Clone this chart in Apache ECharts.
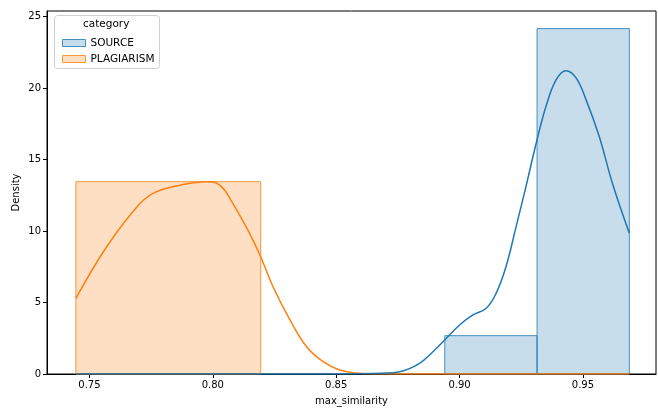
<!DOCTYPE html>
<html><head><meta charset="utf-8">
<script src="https://cdn.jsdelivr.net/npm/echarts@6/dist/echarts.min.js"></script>
<style>html,body{margin:0;padding:0;background:#fff}#c{width:658px;height:409px}</style>
</head><body><div id="c"></div>
<script>
// ---- data ----
const categories = ['SOURCE', 'PLAGIARISM'];
const sourceBinStart = [0.894, 0.9314];
const sourceBinEnd = [0.9314, 0.9688];
const sourceDensity = [2.68, 24.15];
const plagBinStart = [0.7445];
const plagBinEnd = [0.8194];
const plagDensity = [13.45];
const sourceKdeX = [0.7445, 0.80, 0.85, 0.86, 0.868, 0.8757, 0.8838, 0.8892, 0.894, 0.90, 0.9054, 0.9108, 0.9148, 0.9188, 0.9229, 0.9269, 0.931, 0.935, 0.9391, 0.9431, 0.9472, 0.9512, 0.9566, 0.962, 0.9688];
const sourceKdeY = [0, 0, 0, 0.01, 0.05, 0.16, 0.75, 1.56, 2.38, 3.43, 4.13, 4.6, 5.64, 7.5, 10.3, 13.1, 16.1, 18.7, 20.56, 21.2, 20.7, 19.2, 16.6, 13.3, 9.84];
const plagKdeX = [0.7445, 0.757, 0.7704, 0.7772, 0.7866, 0.7968, 0.8028, 0.8082, 0.815, 0.8194, 0.8244, 0.8312, 0.838, 0.8447, 0.8514, 0.858, 0.865, 0.875, 0.90, 0.9688];
const plagKdeY = [5.29, 8.9, 11.9, 12.75, 13.2, 13.45, 13.2, 11.9, 9.8, 8.2, 6.1, 3.8, 1.9, 0.86, 0.28, 0.07, 0.01, 0, 0, 0];
const xTicks = [0.75, 0.80, 0.85, 0.90, 0.95];
const yTicks = [0, 5, 10, 15, 20, 25];

const blue = '#1f77b4', orange = '#ff7f0e';
const zip = (a, b) => a.map((v, i) => [v, b[i]]);
const histData = (s, e, d) => s.map((v, i) => [v, e[i], d[i]]);

function renderBar(params, api) {
  const p0 = api.coord([api.value(0), api.value(2)]);
  const p1 = api.coord([api.value(1), 0]);
  return {
    type: 'rect',
    shape: { x: p0[0], y: p0[1], width: p1[0] - p0[0], height: p1[1] - p0[1] },
    style: api.style()
  };
}

const chart = echarts.init(document.getElementById('c'), null, { renderer: 'canvas' });
const font = 'DejaVu Sans';
chart.setOption({
  animation: false,
  textStyle: { fontFamily: font },
  grid: { left: 47, right: 2, top: 11, bottom: 35, containLabel: false, outerBoundsMode: 'none', show: true, borderColor: '#000', borderWidth: 1, backgroundColor: 'transparent' },
  xAxis: {
    type: 'value', min: 0.7328, max: 0.9796,
    name: 'max_similarity', nameLocation: 'middle', nameGap: 22,
    nameTextStyle: { color: '#000', fontSize: 10, fontFamily: font },
    axisLine: { show: true, lineStyle: { color: '#000', width: 1 } },
    axisTick: { show: true, length: 4, lineStyle: { color: '#000' }, customValues: xTicks },
    axisLabel: { color: '#000', fontSize: 10, margin: 6, customValues: xTicks, formatter: v => v.toFixed(2) },
    splitLine: { show: false }
  },
  yAxis: {
    type: 'value', min: 0, max: 25.38,
    name: 'Density', nameLocation: 'middle', nameGap: 31, nameMoveOverlap: false,
    nameTextStyle: { color: '#000', fontSize: 10, fontFamily: font, verticalAlign: 'middle' },
    axisLine: { show: true, lineStyle: { color: '#000', width: 1 } },
    axisTick: { show: true, length: 4, lineStyle: { color: '#000' }, customValues: yTicks },
    axisLabel: { color: '#000', fontSize: 10, margin: 6, customValues: yTicks },
    splitLine: { show: false }
  },
  legend: {
    data: categories, orient: 'vertical', left: 57, top: 32, z: 100, zlevel: 1,
    itemWidth: 23, itemHeight: 7, itemGap: 4, icon: 'rect',
    itemStyle: { borderWidth: 1 },
    textStyle: { fontSize: 10.5, color: '#000', fontFamily: font, lineHeight: 12 }
  },
  graphic: [
    { type: 'rect', left: 54, top: 15, z: 0, zlevel: 0, shape: { width: 105, height: 53, r: 3 }, style: { fill: 'rgba(255,255,255,0.8)', stroke: '#d0d0d0', lineWidth: 1 } },
    { type: 'text', left: 83, top: 19, z: 95, zlevel: 1, style: { text: 'category', fontSize: 10.5, fontFamily: font, fill: '#000' } }
  ],
  series: [
    { name: 'SOURCE', type: 'custom', renderItem: renderBar, data: histData(sourceBinStart, sourceBinEnd, sourceDensity),
      encode: { x: [0, 1], y: 2 }, itemStyle: { color: 'rgba(31,119,180,0.25)', borderColor: 'rgba(31,119,180,0.8)', borderWidth: 1 }, z: 2 },
    { name: 'PLAGIARISM', type: 'custom', renderItem: renderBar, data: histData(plagBinStart, plagBinEnd, plagDensity),
      encode: { x: [0, 1], y: 2 }, itemStyle: { color: 'rgba(255,127,14,0.25)', borderColor: 'rgba(255,127,14,0.8)', borderWidth: 1 }, z: 2 },
    { name: 'PLAGIARISM kde', type: 'line', data: zip(plagKdeX, plagKdeY), smooth: 0.4, showSymbol: false,
      lineStyle: { color: orange, width: 1.5 }, itemStyle: { color: orange }, z: 3 },
    { name: 'SOURCE kde', type: 'line', data: zip(sourceKdeX, sourceKdeY), smooth: 0.4, showSymbol: false,
      lineStyle: { color: blue, width: 1.5 }, itemStyle: { color: blue }, z: 4 }
  ]
});
</script></body></html>
